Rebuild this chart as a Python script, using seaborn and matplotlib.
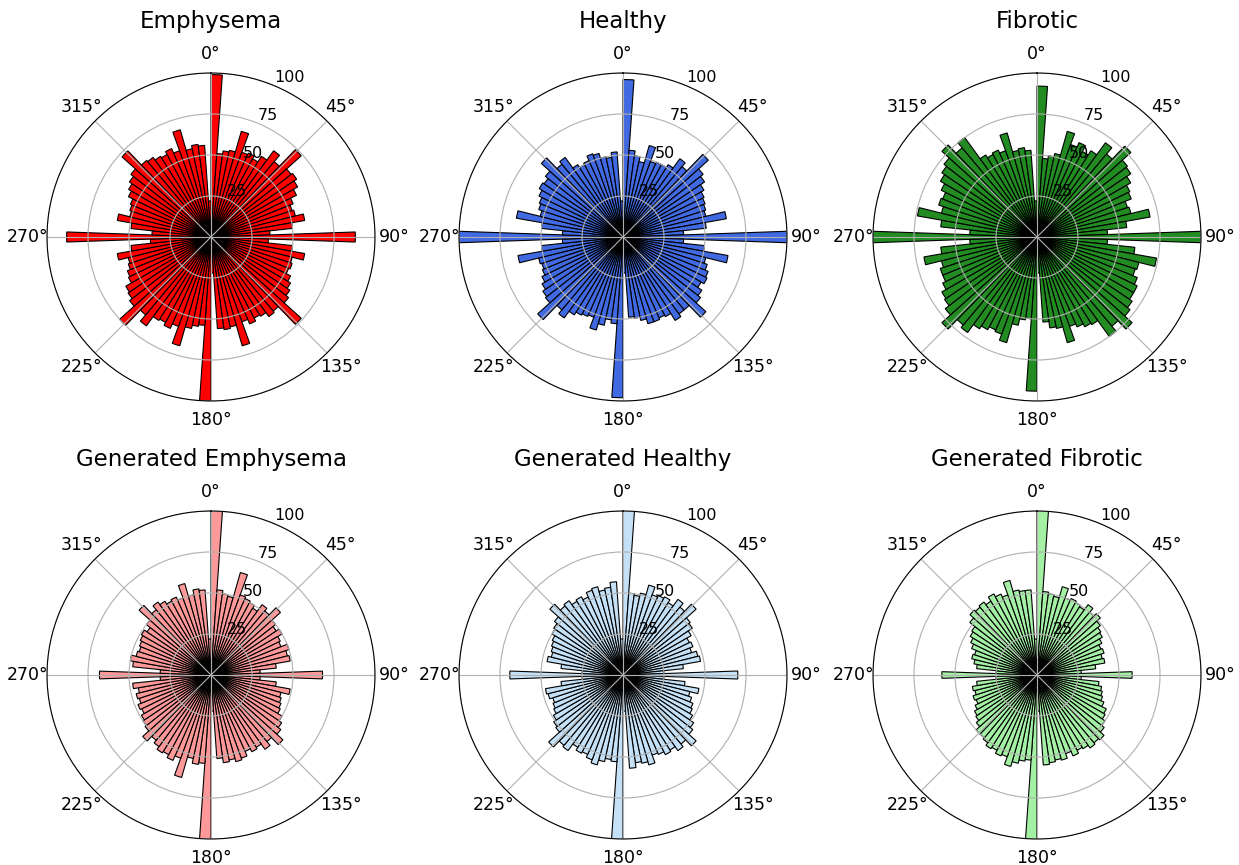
import numpy as np
import pandas as pd
import matplotlib
matplotlib.use("Agg")
import matplotlib.pyplot as plt
import seaborn as sns

# 90 bins of 4 degrees, clockwise from north
bin_edges_deg = np.arange(0, 361, 4)
bin_mid_deg = np.arange(2, 360, 4)

emphysema = [99, 51, 53, 54, 67, 55, 56, 54, 58, 65, 60, 74, 62, 63, 61, 58, 54, 52, 53, 58,
             50, 36, 88, 35, 50, 58, 51, 52, 51, 54, 56, 58, 60, 74, 59, 60, 57, 56, 58, 55,
             69, 56, 57, 56, 22, 100, 54, 55, 57, 69, 58, 61, 59, 60, 67, 62, 75, 63, 61, 60,
             56, 55, 53, 52, 58, 49, 37, 88, 36, 49, 58, 51, 52, 53, 56, 58, 60, 62, 73, 61,
             60, 58, 57, 59, 56, 68, 55, 57, 56, 22]
healthy = [96, 53, 50, 47, 58, 49, 50, 50, 52, 59, 56, 70, 62, 60, 57, 55, 54, 53, 52, 64,
           51, 37, 104, 37, 50, 65, 52, 54, 56, 57, 55, 58, 60, 68, 58, 58, 60, 55, 54, 55,
           55, 52, 50, 49, 22, 98, 53, 51, 55, 59, 52, 53, 54, 56, 61, 58, 70, 60, 59, 57,
           55, 53, 52, 53, 65, 50, 37, 104, 37, 50, 66, 52, 54, 55, 57, 59, 58, 60, 67, 58,
           60, 52, 50, 51, 54, 53, 50, 49, 52, 22]
fibrotic = [92, 48, 50, 52, 67, 60, 63, 59, 62, 71, 66, 77, 70, 69, 66, 63, 62, 58, 59, 70,
            55, 43, 104, 43, 60, 74, 64, 63, 66, 68, 68, 70, 72, 78, 71, 75, 63, 62, 60, 58,
            67, 57, 56, 52, 22, 94, 50, 51, 55, 67, 63, 62, 64, 66, 72, 70, 78, 71, 68, 67,
            64, 62, 62, 60, 70, 59, 41, 104, 41, 59, 74, 60, 63, 62, 65, 68, 70, 72, 78, 71,
            75, 59, 57, 58, 56, 66, 54, 55, 53, 22]
gen_emphysema = [103, 52, 50, 49, 65, 52, 51, 50, 48, 53, 51, 57, 50, 48, 50, 47, 46, 50, 48, 49,
                 40, 30, 68, 30, 40, 49, 44, 45, 46, 47, 50, 52, 54, 59, 53, 56, 52, 53, 51, 54,
                 55, 53, 54, 51, 22, 103, 54, 55, 52, 65, 54, 57, 55, 56, 54, 52, 56, 51, 50, 49,
                 47, 48, 46, 47, 45, 48, 31, 68, 31, 48, 50, 47, 46, 47, 48, 49, 47, 50, 59, 52,
                 55, 53, 51, 52, 50, 58, 50, 53, 52, 22]
gen_healthy = [103, 50, 49, 51, 57, 52, 53, 54, 52, 57, 54, 60, 52, 51, 48, 45, 46, 44, 47, 48,
               37, 25, 70, 25, 38, 47, 42, 44, 46, 47, 49, 52, 54, 60, 55, 57, 54, 55, 53, 52,
               57, 55, 54, 57, 22, 103, 53, 52, 54, 57, 55, 53, 54, 52, 57, 56, 61, 52, 51, 49,
               47, 46, 45, 47, 48, 38, 25, 69, 25, 38, 47, 45, 46, 47, 48, 50, 51, 53, 60, 55,
               56, 53, 54, 52, 55, 56, 53, 54, 57, 22]
gen_fibrotic = [103, 51, 50, 49, 56, 50, 51, 50, 49, 53, 50, 52, 49, 47, 46, 44, 42, 43, 41, 42,
                36, 27, 58, 27, 38, 40, 41, 42, 44, 47, 48, 50, 52, 55, 54, 55, 53, 52, 54, 51,
                54, 53, 54, 55, 22, 103, 52, 53, 55, 58, 53, 54, 52, 53, 51, 50, 50, 47, 45, 44,
                42, 40, 41, 39, 40, 37, 25, 58, 25, 37, 39, 41, 40, 43, 45, 47, 48, 52, 55, 54,
                55, 53, 56, 54, 52, 60, 53, 52, 52, 22]

titles = ["Emphysema", "Healthy", "Fibrotic",
          "Generated Emphysema", "Generated Healthy", "Generated Fibrotic"]
series = [emphysema, healthy, fibrotic, gen_emphysema, gen_healthy, gen_fibrotic]
colors = ["#ff0000", "#4169e1", "#228b22", "#ff9999", "#c5e1f7", "#a4f0a4"]
r_ticks = [25, 50, 75, 100]

W, H = 1239, 865
fig = plt.figure(figsize=(W / 100, H / 100), dpi=100)
col_x = [211, 623, 1037]
row_y = [237, 675]
R = 164

edges = list(np.deg2rad(bin_edges_deg))

for i, (name, vals, c) in enumerate(zip(titles, series, colors)):
    x0 = col_x[i % 3]
    y0 = row_y[i // 3]
    ax = fig.add_axes([(x0 - R) / W, (H - y0 - R) / H, 2 * R / W, 2 * R / H],
                      projection="polar")
    ax.set_theta_zero_location("N")
    ax.set_theta_direction(-1)
    df = pd.DataFrame({"angle": np.deg2rad(bin_mid_deg), "count": vals})
    sns.histplot(data=df, x="angle", weights="count", bins=edges,
                 ax=ax, color=c, edgecolor="black", linewidth=0.8, alpha=1)
    ax.set_ylim(0, 100)
    ax.set_yticks(r_ticks)
    ax.set_rlabel_position(22.5)
    ax.set_xlabel("")
    ax.set_ylabel("")
    ax.tick_params(axis="x", labelsize=12.5)
    ax.tick_params(axis="y", labelsize=11.5)
    ax.grid(True, color="#b0b0b0", linewidth=0.8)
    ax.set_title(name, fontsize=16.5, pad=12)

fig.savefig("out.png", dpi=100)
